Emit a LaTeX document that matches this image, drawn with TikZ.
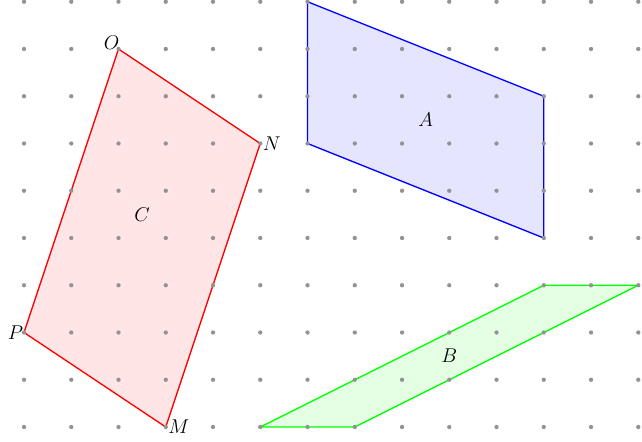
\documentclass[tikz,border=0pt]{standalone}
\usepackage{amsmath}
\usepackage{amssymb}
\usepackage{xcolor}
\usepackage{tikz}

\tikzset{
  gridpt/.style={fill=gray!85},
  shapeA/.style={draw=blue,fill=blue!10,thick,line join=round},
  shapeB/.style={draw=green,fill=green!10,thick,line join=round},
  shapeC/.style={draw=red,fill=red!10,thick,line join=round}
}

\begin{document}
\begin{tikzpicture}[x=1cm,y=1cm,font=\large]
  \useasboundingbox (-0.508,-0.317) rectangle (13.079,9.037);
  % shapes
  \draw[shapeA] (6,9) -- (11,7) -- (11,4) -- (6,6) -- cycle;
  \draw[shapeB] (5,0) -- (7,0) -- (13,3) -- (11,3) -- cycle;
  \coordinate (O) at (2,8);
  \coordinate (N) at (5,6);
  \coordinate (M) at (3,0);
  \coordinate (P) at (0,2);
  \draw[shapeC] (O) -- (N) -- (M) -- (P) -- cycle;
  % dot grid
  \foreach \i in {0,...,13}
    \foreach \j in {0,...,9}
      \fill[gridpt] (\i,\j) circle (1.3pt);
  % labels
  \node (lA) at (8.5,6.5) {$A$};
  \node (lB) at (9,1.5) {$B$};
  \node (lC) at (2.5,4.5) {$C$};
  \node[above left=-4pt] (lO) at (O) {$O$};
  \node[right=-2pt] (lN) at (N) {$N$};
  \node[right=-2pt] (lM) at (M) {$M$};
  \node[left=-3pt] (lP) at (P) {$P$};
\end{tikzpicture}
\end{document}
